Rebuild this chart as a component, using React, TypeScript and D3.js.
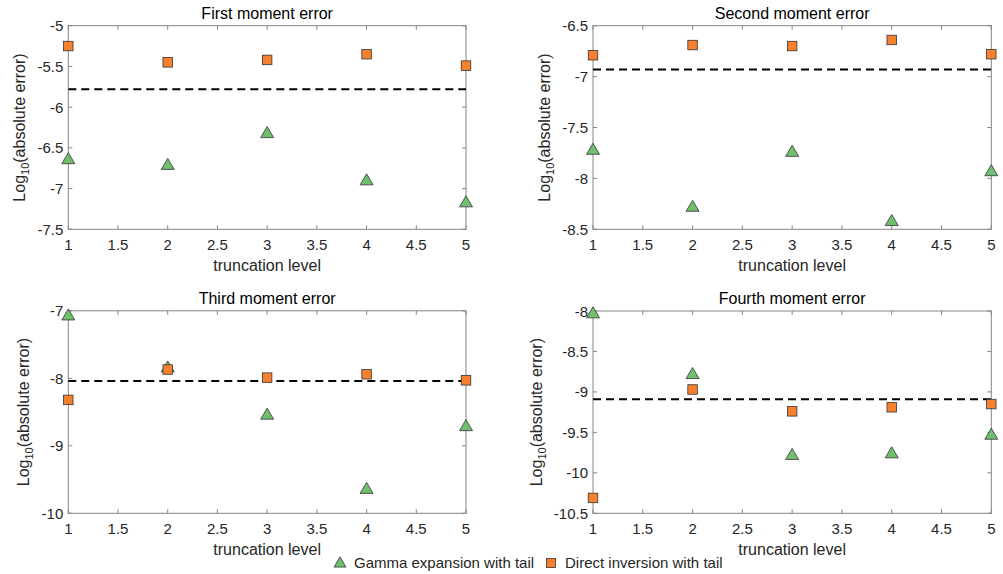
import React from "react";
import * as d3 from "d3";

const levels = [1, 2, 3, 4, 5];
const titles = ["First moment error", "Second moment error", "Third moment error", "Fourth moment error"];
const gammaSeries = [
  [-6.64, -6.71, -6.32, -6.90, -7.17],
  [-7.72, -8.28, -7.74, -8.42, -7.93],
  [-7.07, -7.84, -8.54, -9.64, -8.71],
  [-8.03, -8.78, -9.78, -9.76, -9.53],
];
const directSeries = [
  [-5.25, -5.45, -5.42, -5.35, -5.49],
  [-6.79, -6.69, -6.70, -6.64, -6.78],
  [-8.32, -7.87, -7.99, -7.94, -8.03],
  [-10.31, -8.97, -9.24, -9.19, -9.15],
];
const referenceLines = [-5.78, -6.93, -8.04, -9.09];
const yDomains: [number, number][] = [[-7.5, -5], [-8.5, -6.5], [-10, -7], [-10.5, -8]];
const yTickValues = [
  [-7.5, -7, -6.5, -6, -5.5, -5],
  [-8.5, -8, -7.5, -7, -6.5],
  [-10, -9, -8, -7],
  [-10.5, -10, -9.5, -9, -8.5, -8],
];
const xTickValues = [1, 1.5, 2, 2.5, 3, 3.5, 4, 4.5, 5];
const legendLabels = ["Gamma expansion with tail", "Direct inversion with tail"];

const W = 1003, H = 574;
const boxes = [
  { l: 68.3, r: 466, t: 25.7, b: 229.3, ylx: 25 },
  { l: 593, r: 991.3, t: 25.7, b: 229.3, ylx: 549.5 },
  { l: 68.3, r: 466, t: 310.8, b: 513.3, ylx: 29 },
  { l: 593, r: 991.3, t: 311, b: 513.3, ylx: 541.5 },
];
const FONT = "Arial, 'Liberation Sans', Helvetica, sans-serif";
const TXT = "#262626";
const AX = "#858585";
const GREEN = "#6fbf6f";
const ORANGE = "#f7802f";
const EDGE = "#333333";

const fmt = (v: number) => String(v);

function Triangle({ cx, cy, s = 13 }: { cx: number; cy: number; s?: number }) {
  const h = s * 0.85;
  const pts = [
    [cx, cy - h * 0.6],
    [cx - s / 2, cy + h * 0.4],
    [cx + s / 2, cy + h * 0.4],
  ];
  return <polygon points={pts.map((p) => p.join(",")).join(" ")} fill={GREEN} stroke={EDGE} strokeWidth={0.8} />;
}
function Square({ cx, cy, s = 9.5 }: { cx: number; cy: number; s?: number }) {
  return <rect x={cx - s / 2} y={cy - s / 2} width={s} height={s} fill={ORANGE} stroke={EDGE} strokeWidth={0.8} />;
}

function Panel({ i }: { i: number }) {
  const bx = boxes[i];
  const x = d3.scaleLinear().domain([1, 5]).range([bx.l, bx.r]);
  const y = d3.scaleLinear().domain(yDomains[i]).range([bx.b, bx.t]);
  const tl = 4;
  const cxm = (bx.l + bx.r) / 2;
  const cym = (bx.t + bx.b) / 2;
  return (
    <g>
      <rect x={bx.l} y={bx.t} width={bx.r - bx.l} height={bx.b - bx.t} fill="white" stroke={AX} strokeWidth={1} />
      {xTickValues.map((v) => (
        <g key={"x" + v}>
          <line x1={x(v)} x2={x(v)} y1={bx.b} y2={bx.b - tl} stroke={AX} />
          <line x1={x(v)} x2={x(v)} y1={bx.t} y2={bx.t + tl} stroke={AX} />
          <text x={x(v)} y={bx.b + 21} textAnchor="middle" fontSize={15} fill={TXT} fontFamily={FONT}>
            {fmt(v)}
          </text>
        </g>
      ))}
      {yTickValues[i].map((v) => (
        <g key={"y" + v}>
          <line x1={bx.l} x2={bx.l + tl} y1={y(v)} y2={y(v)} stroke={AX} />
          <line x1={bx.r} x2={bx.r - tl} y1={y(v)} y2={y(v)} stroke={AX} />
          <text x={bx.l - 5} y={y(v) + 5.5} textAnchor="end" fontSize={15} fill={TXT} fontFamily={FONT}>
            {fmt(v)}
          </text>
        </g>
      ))}
      <line x1={x(1)} x2={x(5)} y1={y(referenceLines[i])} y2={y(referenceLines[i])} stroke="#000" strokeWidth={2} strokeDasharray="8,5" />
      {levels.map((lv, j) => (
        <Triangle key={"g" + j} cx={x(lv)} cy={y(gammaSeries[i][j])} />
      ))}
      {levels.map((lv, j) => (
        <Square key={"d" + j} cx={x(lv)} cy={y(directSeries[i][j])} />
      ))}
      <text x={cxm} y={bx.t - 7} textAnchor="middle" fontSize={16} fill="#000" fontFamily={FONT}>
        {titles[i]}
      </text>
      <text x={cxm} y={bx.b + 41.5} textAnchor="middle" fontSize={16} fill={TXT} fontFamily={FONT}>
        truncation level
      </text>
      <text
        transform={`translate(${bx.ylx},${cym}) rotate(-90)`}
        textAnchor="middle"
        fontSize={16}
        fill={TXT}
        fontFamily={FONT}
      >
        Log
        <tspan fontSize={11} dy={4}>10</tspan>
        <tspan dy={-4}>(absolute error)</tspan>
      </text>
    </g>
  );
}

export default function App() {
  return (
    <svg width={W} height={H} style={{ position: "absolute", left: 0, top: 0, background: "white" }}>
      <rect width={W} height={H} fill="white" />
      {titles.map((_, i) => (
        <Panel key={i} i={i} />
      ))}
      <g>
        <Triangle cx={340} cy={563} s={12} />
        <text x={354} y={568} fontSize={15} fill={TXT} fontFamily={FONT}>
          {legendLabels[0]}
        </text>
        <Square cx={551} cy={563} s={9} />
        <text x={565} y={568} fontSize={15} fill={TXT} fontFamily={FONT}>
          {legendLabels[1]}
        </text>
      </g>
    </svg>
  );
}
